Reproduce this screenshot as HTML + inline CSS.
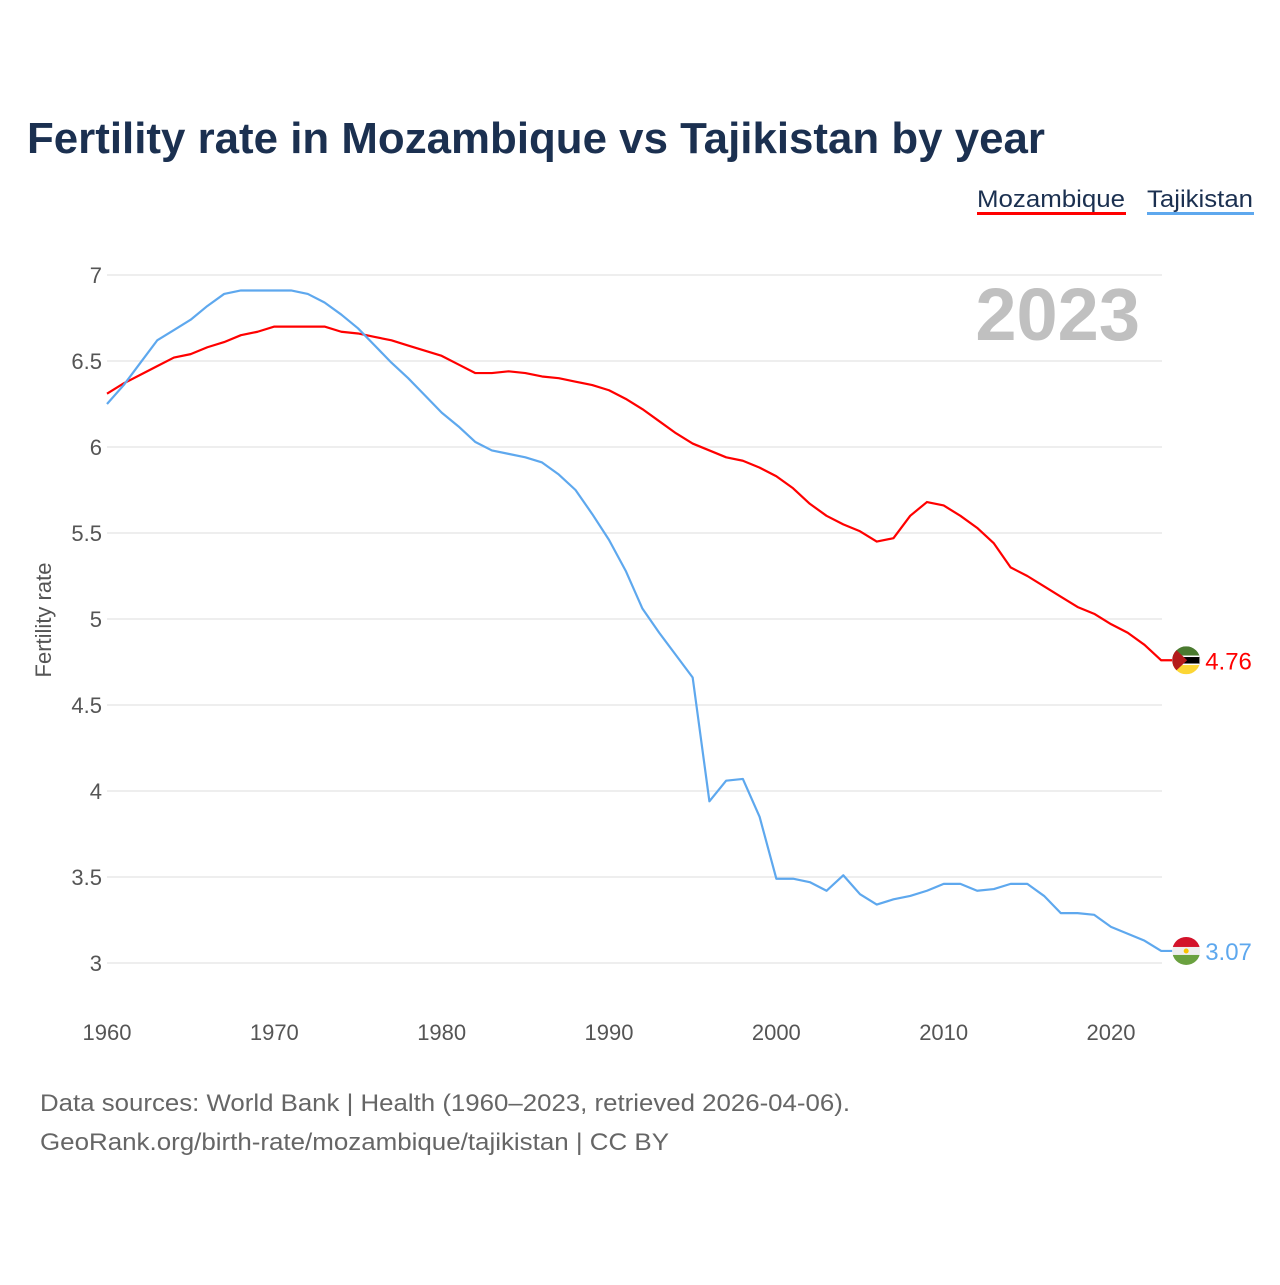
<!DOCTYPE html>
<html><head><meta charset="utf-8"><style>
body{margin:0;background:#fff;}
svg text{font-family:"Liberation Sans",sans-serif;}
</style></head><body>
<svg id="chart" width="1280" height="1280" xmlns="http://www.w3.org/2000/svg">
<rect width="1280" height="1280" fill="#fff"/>
<text x="27" y="153" font-size="44" font-weight="bold" fill="#1b3050" textLength="1018" lengthAdjust="spacingAndGlyphs">Fertility rate in Mozambique vs Tajikistan by year</text>
<g>
<text x="977" y="207" font-size="24" fill="#1b3050" textLength="148" lengthAdjust="spacingAndGlyphs">Mozambique</text>
<rect x="977" y="212" width="149" height="3" fill="#ff0000"/>
<text x="1147" y="207" font-size="24" fill="#1b3050" textLength="106" lengthAdjust="spacingAndGlyphs">Tajikistan</text>
<rect x="1147" y="212" width="107" height="3" fill="#5ea8ee"/>
</g>
<text x="1140" y="340" font-size="74" font-weight="bold" fill="#c0c0c0" text-anchor="end">2023</text>
<defs id="defs"></defs>
<g id="grid"></g><g id="yticks"></g><g id="xticks"></g><g id="lines"></g><g id="ends"></g>
<text transform="translate(51,620) rotate(-90)" font-size="22" fill="#555" text-anchor="middle">Fertility rate</text>
<text x="40" y="1111" font-size="24" fill="#666" textLength="810" lengthAdjust="spacingAndGlyphs">Data sources: World Bank | Health (1960–2023, retrieved 2026-04-06).</text>
<text x="40" y="1150" font-size="24" fill="#666" textLength="629" lengthAdjust="spacingAndGlyphs">GeoRank.org/birth-rate/mozambique/tajikistan | CC BY</text>
</svg>
<script>
const years=[];for(let y=1960;y<=2023;y++)years.push(y);
const mozambique=[6.31,6.37,6.42,6.47,6.52,6.54,6.58,6.61,6.65,6.67,6.70,6.70,6.70,6.70,6.67,6.66,6.64,6.62,6.59,6.56,6.53,6.48,6.43,6.43,6.44,6.43,6.41,6.40,6.38,6.36,6.33,6.28,6.22,6.15,6.08,6.02,5.98,5.94,5.92,5.88,5.83,5.76,5.67,5.60,5.55,5.51,5.45,5.47,5.60,5.68,5.66,5.60,5.53,5.44,5.30,5.25,5.19,5.13,5.07,5.03,4.97,4.92,4.85,4.76];
const tajikistan=[6.25,6.36,6.49,6.62,6.68,6.74,6.82,6.89,6.91,6.91,6.91,6.91,6.89,6.84,6.77,6.69,6.59,6.49,6.40,6.30,6.20,6.12,6.03,5.98,5.96,5.94,5.91,5.84,5.75,5.61,5.46,5.28,5.06,4.92,4.79,4.66,3.94,4.06,4.07,3.85,3.49,3.49,3.47,3.42,3.51,3.40,3.34,3.37,3.39,3.42,3.46,3.46,3.42,3.43,3.46,3.46,3.39,3.29,3.29,3.28,3.21,3.17,3.13,3.07];
const yTicks=[3,3.5,4,4.5,5,5.5,6,6.5,7];
const xTicks=[1960,1970,1980,1990,2000,2010,2020];
const NS="http://www.w3.org/2000/svg";
const X=y=>107+(y-1960)*(1111-107)/60;
const Y=v=>963-(v-3)*172;
function mk(t,a,p){const e=document.createElementNS(NS,t);for(const k in a)e.setAttribute(k,a[k]);p.appendChild(e);return e;}
const g=document.getElementById('grid'),yt=document.getElementById('yticks'),xt=document.getElementById('xticks'),defs=document.getElementById('defs');
yTicks.forEach(v=>{
 const l=mk('line',{x1:107,x2:1162,y1:Y(v),y2:Y(v),stroke:'#e8e8e8','stroke-width':1.5},g);
 
 
 const t=mk('text',{x:102,y:Y(v)+8,'font-size':22,fill:'#555','text-anchor':'end'},yt);
 t.textContent=String(v);
 
 
});
xTicks.forEach(v=>{
 const t=mk('text',{x:X(v),y:1040,'font-size':22,fill:'#555','text-anchor':'middle'},xt);
 t.textContent=String(v);
 
 
});
const lines=document.getElementById('lines'),ends=document.getElementById('ends');
function series(data,color,name){
 const lastX=X(years[years.length-1]);
 const pts=data.map((v,i)=>X(years[i])+','+Y(v));
 const last=data[data.length-1],cx=lastX+25,cy=Y(last);
 pts.push((cx-14)+','+cy);
 const p=mk('polyline',{points:pts.join(' '),fill:'none',stroke:color,'stroke-width':2.2,'stroke-linejoin':'round'},lines);
 
 
 const cp=mk('clipPath',{id:'clip-'+name},defs);
 mk('circle',{cx:cx,cy:cy,r:14},cp);
 const fg=mk('g',{'clip-path':'url(#clip-'+name+')'},ends);
 
 
 mk('rect',{x:cx-14,y:cy-14,width:28,height:28,fill:'#eee'},fg);
 if(name==='mozambique'){
  mk('rect',{x:cx-14,y:cy-14,width:28,height:10,fill:'#4a7a2f'},fg);
  mk('rect',{x:cx-14,y:cy+4,width:28,height:10,fill:'#fcd634'},fg);
  mk('rect',{x:cx-14,y:cy-4,width:28,height:8,fill:'#000',stroke:'#fff','stroke-width':1.5},fg);
  mk('path',{d:`M${cx-14},${cy-14}L${cx+1},${cy}L${cx-14},${cy+14}z`,fill:'#b31b1b'},fg);
 }else{
  mk('rect',{x:cx-14,y:cy-14,width:28,height:10,fill:'#d3122a'},fg);
  mk('rect',{x:cx-14,y:cy+4,width:28,height:10,fill:'#6aa13f'},fg);
  mk('circle',{cx:cx,cy:cy,r:2.5,fill:'#f8c300'},fg);
 }
 const t=mk('text',{x:cx+19,y:cy+9,'font-size':24,fill:color},ends);
 t.textContent=last.toFixed(2);
 
 
}
series(mozambique,'#ff0000','mozambique');
series(tajikistan,'#5ea8ee','tajikistan');
</script>
</body></html>
